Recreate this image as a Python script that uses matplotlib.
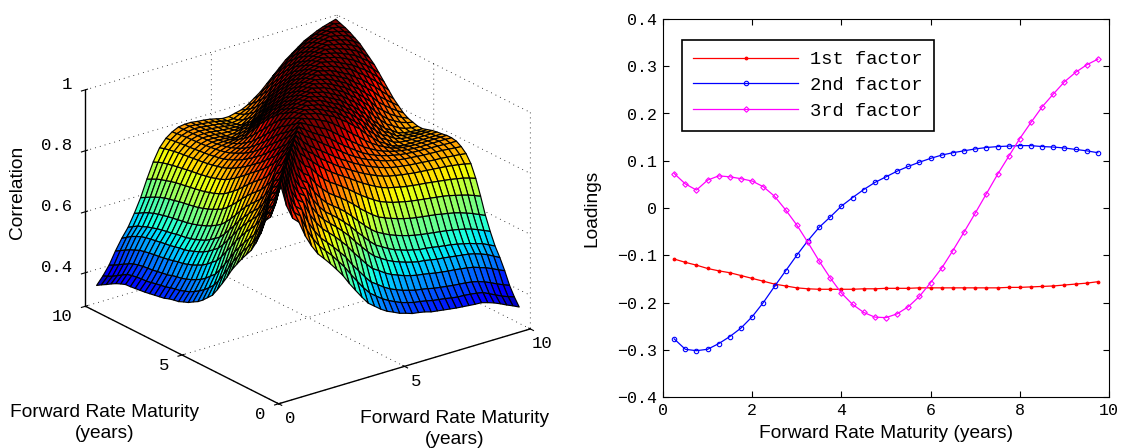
import numpy as np
import matplotlib
matplotlib.use("Agg")
import matplotlib.pyplot as plt

MONO = "Liberation Mono"
SANS = "Liberation Sans"

maturity = [0.25 * (i + 1) for i in range(39)]

factor_1 = [-.108, -.115, -.121, -.128, -.133, -.137, -.143, -.149, -.155, -.161,
            -.165, -.169, -.171, -.172, -.172, -.172, -.172, -.171, -.171, -.170,
            -.170, -.170, -.169, -.169, -.169, -.169, -.169, -.169, -.169, -.169,
            -.168, -.168, -.167, -.166, -.165, -.163, -.161, -.159, -.156]
factor_2 = [-.277, -.299, -.302, -.299, -.287, -.272, -.254, -.230, -.200, -.166,
            -.133, -.100, -.069, -.041, -.019, .004, .022, .039, .054, .066,
            .078, .088, .097, .105, .112, .117, .121, .125, .128, .130,
            .131, .132, .132, .130, .129, .127, .124, .121, .117]
factor_3 = [.073, .051, .038, .059, .068, .066, .062, .057, .045, .025,
            -.004, -.036, -.073, -.112, -.148, -.180, -.204, -.221, -.231, -.232,
            -.224, -.209, -.187, -.158, -.127, -.090, -.051, -.011, .030, .071,
            .109, .147, .181, .214, .241, .267, .287, .303, .315]

# correlation, one list per maturity, from the diagonal outwards
corr_cols = [
    [1, .92, .872, .853, .802, .763, .731, .709, .686, .661, .635, .603, .574, .546, .52, .504, .488, .475, .466, .456,
     .45, .443, .44, .436, .43, .427, .424, .421, .418, .416, .414, .412, .411, .405, .398, .389, .379, .37, .36],
    [1, .923, .877, .859, .809, .772, .742, .72, .699, .674, .649, .619, .591, .563, .539, .523, .508, .496, .486, .477,
     .471, .465, .462, .458, .453, .45, .447, .443, .44, .439, .437, .434, .43, .42, .41, .40, .392, .385],
    [1, .927, .883, .865, .819, .784, .754, .734, .713, .69, .667, .637, .611, .585, .561, .547, .532, .52, .511, .503,
     .497, .491, .488, .484, .479, .476, .473, .47, .468, .466, .463, .458, .451, .442, .432, .423, .415],
    [1, .929, .891, .875, .831, .798, .771, .752, .733, .711, .689, .662, .638, .613, .591, .578, .564, .553, .545, .537,
     .531, .526, .523, .519, .515, .512, .509, .507, .504, .501, .497, .49, .483, .474, .464, .455],
    [1, .935, .898, .883, .842, .811, .786, .768, .75, .73, .709, .684, .661, .638, .618, .605, .592, .582, .574, .567,
     .561, .556, .554, .55, .546, .544, .541, .538, .535, .532, .527, .52, .512, .501, .49],
    [1, .94, .904, .89, .851, .822, .798, .782, .765, .746, .726, .702, .681, .659, .64, .628, .616, .606, .599, .592,
     .587, .582, .58, .577, .573, .57, .567, .563, .558, .553, .546, .54, .53, .52],
    [1, .945, .912, .897, .862, .835, .813, .797, .782, .765, .745, .723, .703, .684, .668, .657, .647, .639, .632, .626,
     .621, .617, .614, .611, .608, .605, .601, .597, .592, .586, .578, .569, .56],
    [1, .951, .921, .906, .875, .852, .832, .817, .803, .787, .77, .751, .734, .718, .704, .695, .687, .68, .674, .669,
     .665, .662, .659, .656, .652, .648, .644, .638, .631, .623, .614, .605],
    [1, .96, .932, .918, .892, .87, .853, .84, .826, .811, .795, .779, .765, .752, .74, .732, .725, .72, .715, .711,
     .708, .705, .702, .699, .696, .692, .687, .682, .676, .668, .66],
    [1, .965, .945, .925, .905, .888, .872, .858, .845, .832, .818, .805, .793, .782, .772, .765, .76, .755, .751, .748,
     .745, .743, .74, .737, .734, .731, .727, .723, .717, .71],
    [1, .97, .95, .935, .915, .9, .885, .87, .858, .845, .833, .822, .812, .803, .795, .789, .785, .781, .778, .775,
     .773, .771, .769, .767, .765, .762, .759, .755, .75],
    [1, .975, .955, .94, .925, .91, .895, .88, .868, .855, .844, .833, .824, .816, .809, .803, .799, .796, .793, .791,
     .789, .787, .785, .784, .782, .78, .778, .775],
    [1, .98, .965, .95, .935, .92, .905, .89, .875, .862, .85, .84, .832, .824, .817, .812, .808, .805, .803, .801,
     .799, .798, .797, .796, .794, .792, .79],
    [1, .984, .97, .957, .945, .93, .913, .897, .882, .868, .854, .843, .834, .826, .82, .815, .811, .808, .806, .805,
     .804, .803, .802, .801, .80, .80],
    [1, .988, .977, .965, .955, .94, .923, .907, .89, .875, .859, .847, .836, .827, .82, .814, .81, .807, .805, .804,
     .804, .804, .804, .804, .803],
    [1, .992, .985, .975, .965, .951, .935, .918, .9, .884, .866, .851, .838, .827, .817, .81, .806, .804, .803, .803,
     .803, .803, .803, .803],
    [1, .994, .99, .98, .97, .96, .944, .93, .912, .895, .872, .854, .835, .824, .81, .803, .80, .80, .80, .80,
     .80, .80, .80],
    [1, .994, .99, .98, .97, .96, .943, .929, .911, .894, .871, .853, .833, .822, .808, .801, .799, .798, .798, .798,
     .798, .798],
    [1, .994, .99, .98, .969, .959, .943, .929, .91, .892, .869, .85, .83, .82, .806, .799, .796, .795, .795, .795,
     .795],
    [1, .994, .99, .979, .968, .958, .941, .927, .908, .89, .866, .847, .827, .816, .801, .795, .792, .79, .79, .79],
    [1, .994, .989, .979, .968, .957, .94, .925, .906, .887, .862, .843, .823, .811, .796, .79, .787, .785, .785],
    [1, .994, .989, .979, .968, .957, .94, .925, .906, .887, .862, .843, .823, .811, .798, .79, .786, .785],
    [1, .994, .989, .979, .968, .957, .94, .925, .906, .887, .862, .843, .825, .813, .802, .795, .79],
    [1, .994, .989, .979, .968, .957, .94, .925, .906, .887, .862, .845, .828, .815, .804, .795],
    [1, .994, .989, .979, .968, .957, .94, .925, .906, .888, .865, .848, .832, .818, .805],
    [1, .994, .989, .979, .968, .957, .94, .926, .908, .891, .869, .852, .836, .82],
    [1, .994, .989, .979, .968, .958, .942, .928, .91, .893, .873, .854, .835],
    [1, .994, .989, .98, .97, .96, .944, .93, .913, .896, .876, .855],
    [1, .995, .99, .98, .97, .96, .945, .932, .915, .897, .875],
    [1, .995, .99, .982, .972, .962, .947, .933, .915, .895],
    [1, .995, .99, .982, .973, .963, .948, .933, .915],
    [1, .995, .99, .983, .974, .964, .949, .93],
    [1, .995, .991, .984, .975, .963, .945],
    [1, .996, .991, .984, .974, .96],
    [1, .996, .991, .983, .97],
    [1, .996, .99, .98],
    [1, .996, .988],
    [1, .994],
    [1],
]

fig = plt.figure(figsize=(11.21, 4.48), dpi=100)

# left panel, correlation surface
corr = np.zeros((39, 39))
for j, col in enumerate(corr_cols):
    corr[j, j:] = col
    corr[j:, j] = col
X, Y = np.meshgrid(maturity, maturity)

ax = fig.add_axes([-0.0116, -0.063, 0.56, 1.16], projection="3d", proj_type="ortho")
ax.set_box_aspect((1, 1, 0.74), zoom=0.946)
ax.view_init(elev=22.8, azim=-127.5)
ax.plot_surface(X, Y, corr, rstride=1, cstride=1, cmap="jet", edgecolor="k",
                linewidth=0.85, shade=False, vmin=0.34, vmax=0.96)
ax.set_xlim(0, 10, view_margin=0)
ax.set_ylim(0, 10, view_margin=0)
ax.set_zlim(0.29, 1, view_margin=0)
ax.set_xticks([0, 5, 10])
ax.set_yticks([0, 5, 10])
ax.set_zticks([0.4, 0.6, 0.8, 1])
ax.set_zticklabels(["0.4", "0.6", "0.8", "1"])
for axis in (ax.xaxis, ax.yaxis, ax.zaxis):
    axis.set_pane_color((1, 1, 1, 0))
    axis.pane.set_edgecolor("none")
    axis.line.set_color("k")
    axis.line.set_linewidth(1.0)
    axis._axinfo["grid"].update(color="k", linewidth=0.6, linestyle=(0, (1, 5)))
    for lab in axis.get_ticklabels():
        lab.set_family(MONO)
        lab.set_fontsize(12.5)
        lab.set_va("baseline")
for lab in ax.yaxis.get_ticklabels() + ax.zaxis.get_ticklabels():
    lab.set_ha("right")
ax.tick_params(axis="x", pad=4)
ax.tick_params(axis="y", pad=2)
ax.tick_params(axis="z", pad=-2)

fig.text(18 / 1121, 1 - 192 / 448, "Correlation", rotation=90, family=SANS, fontsize=13.8,
         ha="center", va="center")
fig.text(105 / 1121, 1 - 423 / 448, "Forward Rate Maturity\n(years)", family=SANS, fontsize=13.8,
         ha="center", va="center", linespacing=1.25)
fig.text(455 / 1121, 1 - 429 / 448, "Forward Rate Maturity\n(years)", family=SANS, fontsize=13.8,
         ha="center", va="center", linespacing=1.25)

# right panel, factor loadings
ax2 = fig.add_axes([663 / 1121, 1 - 397 / 448, 446 / 1121, 378 / 448])
ax2.plot(maturity, factor_1, color="#ff0000", lw=0.9, marker=".", ms=3.5, label="1st factor")
ax2.plot(maturity, factor_2, color="#0000ff", lw=0.9, marker="o", ms=3.2, mfc="none", mew=0.8, label="2nd factor")
ax2.plot(maturity, factor_3, color="#ff00ff", lw=0.9, marker="D", ms=2.8, mfc="none", mew=0.8, label="3rd factor")
ax2.set_xlim(0, 10)
ax2.set_ylim(-0.4, 0.4)
ax2.set_xticks(range(0, 11, 2))
ax2.set_yticks(np.arange(-4, 5) / 10)
ax2.set_yticklabels(["\u22120.4", "\u22120.3", "\u22120.2", "\u22120.1", "0", "0.1", "0.2", "0.3", "0.4"])
ax2.tick_params(direction="in", top=True, right=True, length=4, width=0.8, pad=4)
for lab in ax2.get_xticklabels() + ax2.get_yticklabels():
    lab.set_family(MONO)
    lab.set_fontsize(12)
ax2.set_xlabel("Forward Rate Maturity (years)", family=SANS, fontsize=13.8, labelpad=5)
ax2.set_ylabel("Loadings", family=SANS, fontsize=13.8, labelpad=12)
leg = ax2.legend(loc="upper left", bbox_to_anchor=(19 / 446, 1 - 21 / 378), borderaxespad=0,
                 fancybox=False, framealpha=1, edgecolor="k", numpoints=1,
                 prop={"family": MONO, "size": 13.5}, handlelength=5.6, labelspacing=0.45,
                 handletextpad=0.65, borderpad=0.6)
leg.get_frame().set_linewidth(1.2)

fig.savefig("out.png", dpi=100)
